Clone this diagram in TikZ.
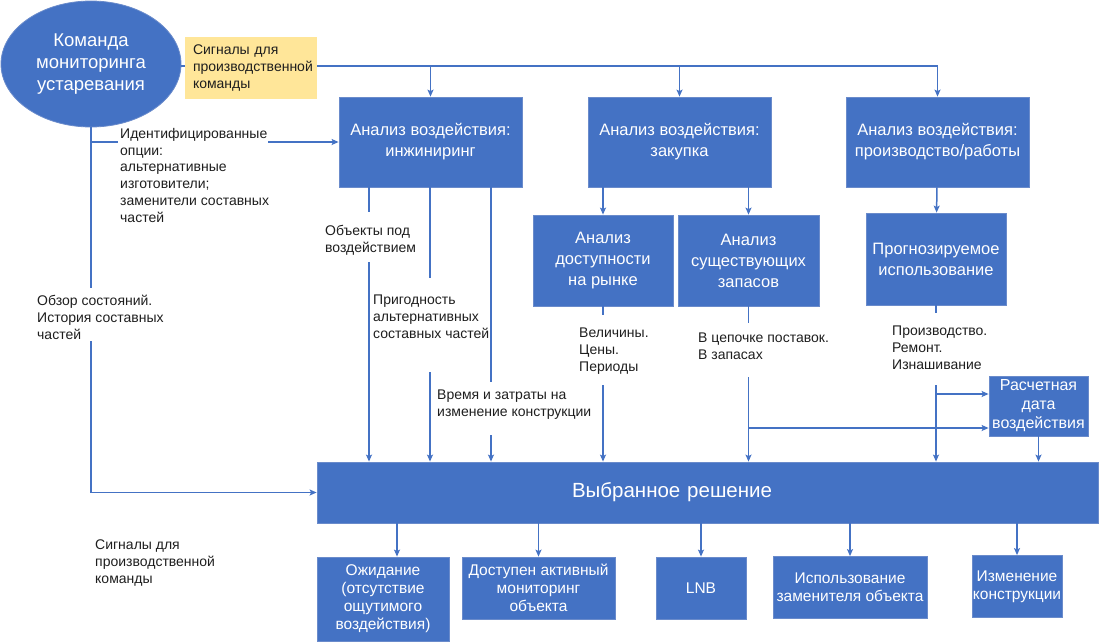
\documentclass[tikz,border=0pt]{standalone}
\usepackage{fontspec}
\setmainfont{Liberation Sans}
\usepackage{tikz}
\usetikzlibrary{shapes,arrows.meta}

\definecolor{boxblue}{HTML}{4472C4}
\definecolor{boxedge}{HTML}{6A8BCB}
\definecolor{lineblue}{HTML}{4472C4}
\definecolor{signalyellow}{HTML}{FFE699}
\definecolor{labeltext}{HTML}{1E1E1E}

\tikzstyle{teamoval} = [ellipse, fill=boxblue, draw=boxedge, line width=0.8pt, minimum width=180pt, minimum height=126pt, inner sep=0pt, text=white, align=center, font=\fontsize{18.5}{22}\selectfont]
\tikzstyle{analysis} = [rectangle, fill=boxblue, draw=boxedge, line width=0.8pt, inner sep=0pt, text=white, align=center, font=\fontsize{16.5}{21}\selectfont]
\tikzstyle{outcome} = [analysis, minimum height=62pt, font=\fontsize{15.5}{18}\selectfont]
\tikzstyle{signal} = [rectangle, fill=signalyellow, inner xsep=8pt, inner ysep=0pt, text width=116pt, minimum height=61pt, align=left, text=labeltext, font=\fontsize{14}{17}\selectfont]
\tikzstyle{note} = [inner sep=0pt, anchor=north west, align=left, text=labeltext, font=\fontsize{14}{16.8}\selectfont]
\tikzstyle{wire} = [line width=1.5pt, draw=lineblue]
\tikzstyle{arrow} = [wire, -{Stealth[length=7pt, width=6pt, inset=1.5pt]}]

\begin{document}
\begin{tikzpicture}[x=1pt, y=-1pt] % 1 unit = 1 pixel of the page, y grows downwards
\useasboundingbox (0,0) rectangle (1102,642);

% Place the nodes
\node (team)        [teamoval]                                              at (91,64)      {Команда\\мониторинга\\устаревания};
\node (signals)     [signal]                                                at (251,68)     {Сигналы для\\производственной\\команды};
\node (eng_an)      [analysis, minimum width=183pt, minimum height=90pt]   at (430.5,142)  {Анализ воздействия:\\инжиниринг};
\node (proc_an)     [analysis, minimum width=183pt, minimum height=90pt]   at (679.5,142)  {Анализ воздействия:\\закупка};
\node (prod_an)     [analysis, minimum width=183pt, minimum height=90pt]   at (937.5,142)  {Анализ воздействия:\\производство/работы};
\node (market)      [analysis, minimum width=140pt, minimum height=91pt]   at (603,260.5)  {Анализ\\доступности\\на рынке};
\node (stock)       [analysis, minimum width=141pt, minimum height=91pt]   at (748.5,260.5){Анализ\\существующих\\запасов};
\node (usage)       [analysis, minimum width=140pt, minimum height=92pt]   at (936,259)    {Прогнозируемое\\использование};
\node (impact_date) [analysis, minimum width=99pt, minimum height=60pt, font=\fontsize{16}{19}\selectfont] at (1038.5,406) {Расчетная\\дата\\воздействия};
\node (choice)      [analysis, minimum width=781pt, minimum height=61pt, text width=781pt, align=left, font=\fontsize{20.5}{24}\selectfont] at (707.5,492.5) {\hspace*{255pt}Выбранное решение};
\node (wait)        [outcome, minimum width=132pt, minimum height=84pt]    at (383,599)    {Ожидание\\(отсутствие\\ощутимого\\воздействия)};
\node (monitor)     [outcome, minimum width=153pt]                          at (538.5,588)  {Доступен активный\\мониторинг\\объекта};
\node (lnb)         [outcome, minimum width=90pt]                           at (701,588)    {LNB};
\node (substitute)  [outcome, minimum width=154pt]                          at (850,587.5)  {Использование\\заменителя объекта};
\node (redesign)    [outcome, minimum width=90pt]                           at (1017,586.5) {Изменение\\конструкции};

% Texts on the connectors
\node (ident)     [note] at (120,128) {Идентифицированные\\опции:\\альтернативные\\изготовители;\\заменители составных\\частей};
\node (review)    [note] at (37,295)  {Обзор состояний.\\История составных\\частей};
\node (objects)   [note] at (325,225) {Объекты под\\воздействием};
\node (fitness)   [note] at (373,295) {Пригодность\\альтернативных\\составных частей};
\node (redo_cost) [note] at (437,390) {Время и затраты на\\изменение конструкции};
\node (amounts)   [note] at (579,328) {Величины.\\Цены.\\Периоды};
\node (supply)    [note] at (698,333) {В цепочке поставок.\\В запасах};
\node (wear)      [note] at (892,326) {Производство.\\Ремонт.\\Изнашивание};
\node (signals2)  [note] at (95,540)  {Сигналы для\\производственной\\команды};

% Ends of the broken connectors
\coordinate (bus)       at (0,66);
\coordinate (ident_a)   at (118,142);
\coordinate (ident_b)   at (268,142);
\coordinate (review_a)  at (91,288);
\coordinate (review_b)  at (91,341);
\coordinate (objects_a) at (369,212);
\coordinate (objects_b) at (369,262);
\coordinate (fitness_a) at (430,278);
\coordinate (fitness_b) at (430,372);
\coordinate (redo_a)    at (491,382);
\coordinate (redo_b)    at (491,435);
\coordinate (amounts_a) at (603,315);
\coordinate (amounts_b) at (603,385);
\coordinate (supply_a)  at (748.5,323);
\coordinate (supply_b)  at (748.5,377);
\coordinate (supply_j)  at (748.5,428);
\coordinate (wear_a)    at (936,313);
\coordinate (wear_b)    at (936,385);
\coordinate (wear_j)    at (936,394);

% Connect the nodes with arrows
\draw [wire]  (team.east |- bus)    -- (signals.west |- bus);
\draw [arrow] (signals.east |- bus) -| (prod_an);
\draw [arrow] (eng_an.north |- bus) -- (eng_an);
\draw [arrow] (proc_an.north |- bus) -- (proc_an);
\draw [arrow] (proc_an.south -| market) -- (market);
\draw [arrow] (proc_an.south -| stock)  -- (stock);
\draw [arrow] (prod_an) -- (usage);

\draw [wire]  (team.south |- ident_a) -- (ident_a);
\draw [arrow] (ident_b) -- (eng_an.west |- ident_b);
\draw [wire]  (team.south) -- (review_a);
\draw [arrow] (review_b) |- (choice.west);

\draw [wire]  (eng_an.south -| objects_a) -- (objects_a);
\draw [arrow] (objects_b) -- (choice.north -| objects_b);
\draw [wire]  (eng_an.south -| fitness_a) -- (fitness_a);
\draw [arrow] (fitness_b) -- (choice.north -| fitness_b);
\draw [wire]  (eng_an.south -| redo_a) -- (redo_a);
\draw [arrow] (redo_b) -- (choice.north -| redo_b);

\draw [wire]  (market.south -| amounts_a) -- (amounts_a);
\draw [arrow] (amounts_b) -- (choice.north -| amounts_b);
\draw [wire]  (stock.south -| supply_a) -- (supply_a);
\draw [arrow] (supply_b) -- (choice.north -| supply_b);
\draw [arrow] (supply_j) -- (impact_date.west |- supply_j);
\draw [wire]  (usage.south -| wear_a) -- (wear_a);
\draw [arrow] (wear_b) -- (choice.north -| wear_b);
\draw [arrow] (wear_j) -- (impact_date.west |- wear_j);
\draw [arrow] (impact_date) -- (choice.north -| impact_date);

\draw [arrow] ([xshift=14pt]choice.south -| wait) -- ([xshift=14pt]wait.north);
\draw [arrow] (choice.south -| monitor)    -- (monitor);
\draw [arrow] (choice.south -| lnb)        -- (lnb);
\draw [arrow] (choice.south -| substitute) -- (substitute);
\draw [arrow] (choice.south -| redesign)   -- (redesign);

\end{tikzpicture}
\end{document}
